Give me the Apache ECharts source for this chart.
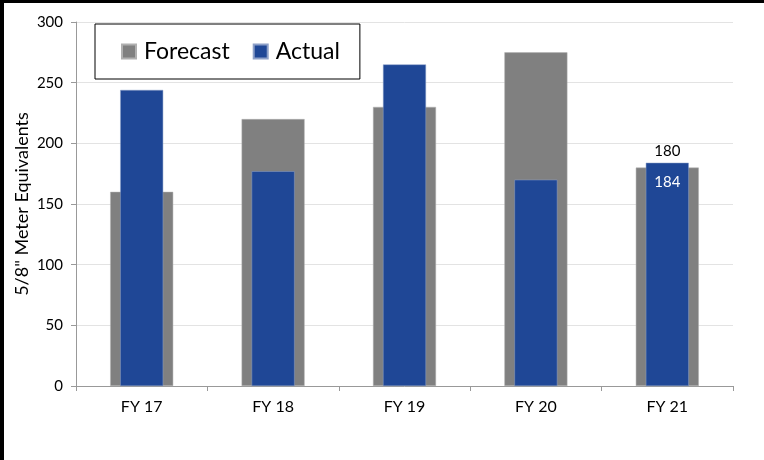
<!DOCTYPE html>
<html>
<head>
<meta charset="utf-8">
<script src="https://cdn.jsdelivr.net/npm/echarts@6/dist/echarts.min.js"></script>
<style>
  html, body { margin: 0; padding: 0; background: #fff; }
  #wrap { position: relative; width: 764px; height: 460px; }
  #chart { width: 764px; height: 460px; }
  .edge { position: absolute; background: #000; }
</style>
</head>
<body>
<div id="wrap">
  <div id="chart"></div>
  <div class="edge" style="left:0;top:0;width:764px;height:3px"></div>
  <div class="edge" style="left:0;top:0;width:4px;height:460px"></div>
</div>
<script>
// data
const categories = ['FY 17', 'FY 18', 'FY 19', 'FY 20', 'FY 21']
const forecast = [160, 220, 230, 275, 180]
const actual = [244, 177, 265, 170, 184]
const yTicks = [0, 50, 100, 150, 200, 250, 300]

const font = 'Lato, "Open Sans", sans-serif'

// only the last year carries value labels
const forecastData = forecast.map((v, i) => i === categories.length - 1
  ? {value: v, label: {show: true, position: 'top', color: '#000', fontSize: 15, distance: 9}}
  : v)
const actualData = actual.map((v, i) => i === categories.length - 1
  ? {value: v, label: {show: true, position: 'insideTop', color: '#fff', fontSize: 15, distance: 12}}
  : v)

const chart = echarts.init(document.getElementById('chart'))
chart.setOption({
  animation: false,
  textStyle: {fontFamily: font},
  grid: {left: 76, right: 31, top: 22, bottom: 74},
  legend: {
    data: ['Forecast', 'Actual'],
    left: 95,
    top: 24,
    orient: 'horizontal',
    padding: [13, 20, 13, 26],
    itemWidth: 14,
    itemHeight: 14,
    itemGap: 23,
    icon: 'rect',
    borderColor: '#000',
    borderWidth: 1,
    textStyle: {fontSize: 23, color: '#000', fontFamily: font, lineHeight: 29, padding: [0, 0, 0, 3]}
  },
  xAxis: [{
    type: 'category',
    data: categories,
    axisLine: {lineStyle: {color: '#999'}},
    axisTick: {show: true, length: 5, lineStyle: {color: '#999'}},
    axisLabel: {color: '#000', fontSize: 16, margin: 13, fontFamily: font}
  }, {
    type: 'category',
    data: categories,
    show: false
  }],
  yAxis: {
    type: 'value',
    min: yTicks[0],
    max: yTicks[yTicks.length - 1],
    interval: 50,
    name: '5/8" Meter Equivalents',
    nameLocation: 'middle',
    nameGap: 45,
    nameMoveOverlap: false,
    nameTextStyle: {fontSize: 18, color: '#000', fontFamily: font},
    axisLine: {show: true, lineStyle: {color: '#999'}},
    axisTick: {show: true, length: 5, lineStyle: {color: '#999'}},
    axisLabel: {color: '#000', fontSize: 15, margin: 13, fontFamily: font},
    splitLine: {lineStyle: {color: '#e3e3e3', width: 1}}
  },
  series: [
    {
      name: 'Forecast',
      type: 'bar',
      xAxisIndex: 0,
      barWidth: 63,
      data: forecastData,
      itemStyle: {color: '#808080', borderColor: '#b0b0b0', borderWidth: 0.5}
    },
    {
      name: 'Actual',
      type: 'bar',
      xAxisIndex: 1,
      barWidth: 43,
      data: actualData,
      itemStyle: {color: '#1F4796', borderColor: '#8da0c8', borderWidth: 0.5}
    }
  ]
})
</script>
</body>
</html>
